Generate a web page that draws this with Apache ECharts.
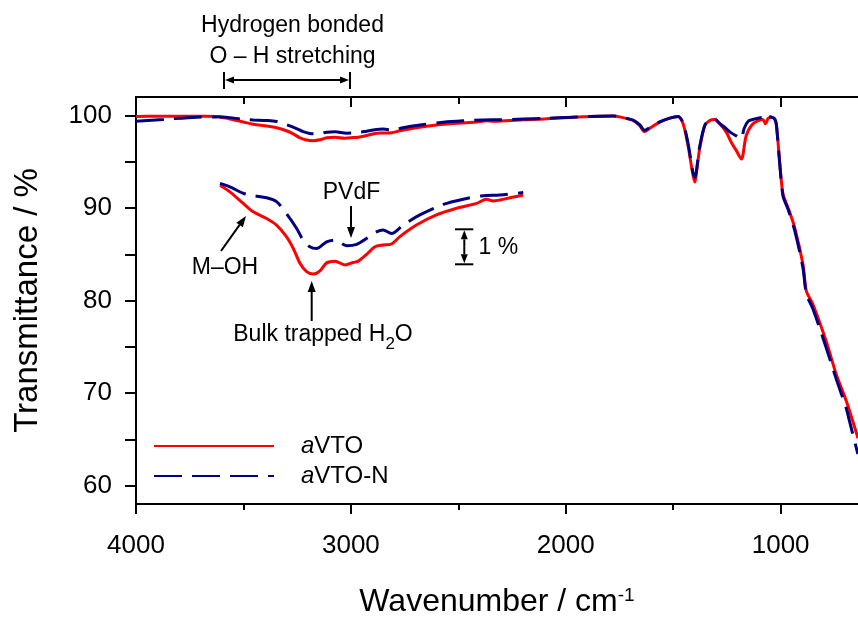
<!DOCTYPE html>
<html><head><meta charset="utf-8">
<script src="https://cdn.jsdelivr.net/npm/echarts@6/dist/echarts.min.js"></script>
<style>html,body{margin:0;padding:0;background:#fff}#c{width:858px;height:619px}</style>
</head><body><div id="c"></div>
<script>
// ---- data ----
const wnRed = [4000,3900,3800,3700,3625,3609,3563,3501,3454,3392,3346,3300,3268,3237,3206,3175,3144,3113,3074,3028,2989,2966,2927,2888,2850,2811,2772,2695,2602,2508,2415,2369,2338,2260,2198,2100,1967,1842,1780,1749,1687,1656,1633,1609,1563,1516,1478,1454,1431,1415,1400,1388,1377,1353,1330,1307,1284,1253,1230,1206,1183,1160,1129,1083,1070,1058,1043,1028,1020,1005,989,966,935,896,880,850,788,741,694,645,640];
const tRed  = [99.9,99.92,99.93,99.92,99.9,99.82,99.63,99.3,99.06,98.87,98.68,98.35,98.01,97.59,97.35,97.28,97.37,97.6,97.65,97.54,97.61,97.65,97.84,98.06,98.11,98.14,98.35,98.68,98.97,99.16,99.3,99.42,99.37,99.46,99.54,99.62,99.82,99.93,99.95,99.85,99.46,98.9,98.26,98.63,99.28,99.71,99.89,99.1,96.75,94.5,92.8,94.5,96.4,98.9,99.46,99.57,99.1,98.2,97.1,96.2,95.3,97.83,99.1,99.57,99.1,99.7,99.82,99.64,99.1,95.1,91.5,90.06,87.9,83.9,81.0,79.6,75.6,72.0,69.1,65.5,65.1];
const wnBlue = [4000,3873,3718,3625,3609,3563,3501,3454,3392,3346,3300,3253,3222,3191,3160,3113,3074,3020,2973,2927,2896,2850,2811,2757,2679,2570,2477,2384,2307,2198,2100,1967,1842,1780,1749,1687,1656,1633,1609,1563,1516,1478,1454,1431,1400,1377,1353,1330,1307,1284,1253,1230,1206,1184,1170,1150,1129,1083,1070,1058,1043,1028,1020,1005,989,966,935,896,880,850,788,741,694,679,645,640];
const tBlue  = [99.38,99.57,99.82,99.85,99.87,99.77,99.59,99.52,99.46,99.35,99.01,98.59,98.25,98.06,98.01,98.2,98.25,98.09,98.13,98.3,98.44,98.54,98.44,98.68,98.97,99.27,99.42,99.52,99.54,99.61,99.68,99.82,99.93,99.95,99.85,99.5,99.0,98.4,98.7,99.3,99.72,99.9,99.2,97.0,93.3,96.6,98.95,99.5,99.6,99.15,98.57,98.12,97.8,97.47,98.6,99.4,99.57,99.8,99.57,99.9,99.82,99.64,99.0,95.0,91.3,89.9,87.6,83.5,80.7,79.1,74.9,71.5,68.3,66.9,63.8,63.4];

const xMajorTicks = [1000,2000,3000,4000];
const xMinorTicks = [1500,2500,3500];
const yTicks  = [60,65,70,75,80,85,90,95,100];
const yLabels = [60,70,80,90,100];
const insetFrom = 3612, insetTo = 2195;   // magnified inset range (cm-1)
const insetYMin = 90.71, insetYMax = 102.34; // inset axis: 1 % = 35 px

const seriesNames = ['aVTO','aVTO-N'];

// ---- build ----
const pairs = (wn, t) => wn.map((w, i) => [w, t[i]]);
const redData = pairs(wnRed, tRed);
const blueData = pairs(wnBlue, tBlue);
const inInset = p => p[0] <= insetFrom && p[0] >= insetTo;

const FONT = 'Liberation Sans, Arial, sans-serif';
const BLACK = '#000';

function arrow(x1, y1, x2, y2, hl, hw) {
  hl = hl || 11; hw = hw || 8;
  const dx = x2 - x1, dy = y2 - y1, L = Math.hypot(dx, dy);
  const ux = dx / L, uy = dy / L, nx = -uy, ny = ux;
  const bx = x2 - ux * hl, by = y2 - uy * hl;
  return [
    {type:'line', shape:{x1:x1, y1:y1, x2:bx, y2:by}, style:{stroke:BLACK, lineWidth:2}},
    {type:'polygon', shape:{points:[[x2,y2],[bx+nx*hw/2, by+ny*hw/2],[bx-nx*hw/2, by-ny*hw/2]]}, style:{fill:BLACK}}
  ];
}
function seg(x1, y1, x2, y2) {
  return {type:'line', shape:{x1:x1, y1:y1, x2:x2, y2:y2}, style:{stroke:BLACK, lineWidth:2}};
}
function txt(s, x, y, align, extra) {
  return {type:'text', style:Object.assign({text:s, x:x, y:y, align:align||'center', verticalAlign:'middle', font:'23px ' + FONT, fill:BLACK}, extra||{})};
}

const graphics = [].concat(
  txt('Hydrogen bonded', 292.5, 26),
  txt('O \u2013 H stretching', 292.5, 57),
  seg(224, 72, 224, 89), seg(350, 72, 350, 89),
  arrow(287, 80, 225, 80, 9, 7), arrow(287, 80, 349, 80, 9, 7),
  txt('PVdF', 351.5, 193),
  arrow(351, 206, 351, 238, 11, 8),
  txt('M\u2013OH', 225, 267.5),
  arrow(221, 251, 246, 216, 11, 8),
  arrow(311.7, 321, 311.7, 281, 11, 8),
  {type:'text', style:{text:'{n|Bulk trapped H}{s|2}{n|O}', x:323, y:335, align:'center', verticalAlign:'middle',
    rich:{n:{fontSize:23, fontFamily:FONT, fill:BLACK, lineHeight:36}, s:{fontSize:17, fontFamily:FONT, fill:BLACK, lineHeight:17, verticalAlign:'bottom'}}}},
  seg(455, 229.3, 473.3, 229.3), seg(455, 264.3, 473.3, 264.3),
  arrow(464.3, 246.8, 464.3, 230.3, 9, 7), arrow(464.3, 246.8, 464.3, 263.3, 9, 7),
  txt('1 %', 478.5, 248, 'left')
);

const axisLine = {show:true, lineStyle:{color:BLACK, width:2}};
const xBase = {type:'value', min:640, max:4000, inverse:true, gridIndex:0, splitLine:{show:false}};
const plain = v => String(v);

const option = {
  backgroundColor:'#fff',
  animation:false,
  grid:{left:136, top:97, width:722, height:407, containLabel:false, outerBoundsMode:'none'},
  xAxis:[
    Object.assign({}, xBase, {position:'bottom', axisLine:axisLine,
      axisTick:{show:true, inside:false, length:10, lineStyle:{color:BLACK, width:2}, customValues:xMajorTicks},
      axisLabel:{show:true, margin:29, fontSize:26, fontFamily:FONT, color:BLACK, customValues:xMajorTicks, formatter:plain},
      name:'{t|Wavenumber / cm}{s|-1}', nameLocation:'middle', nameGap:82,
      nameTextStyle:{rich:{t:{fontSize:32, fontFamily:FONT, color:BLACK}, s:{fontSize:19, fontFamily:FONT, color:BLACK, verticalAlign:'top'}}}}),
    Object.assign({}, xBase, {position:'bottom', axisLine:{show:false},
      axisTick:{show:true, inside:false, length:6, lineStyle:{color:BLACK, width:2}, customValues:xMinorTicks},
      axisLabel:{show:false}}),
    Object.assign({}, xBase, {position:'top', axisLine:axisLine,
      axisTick:{show:true, inside:true, length:10, lineStyle:{color:BLACK, width:2}, customValues:xMajorTicks},
      axisLabel:{show:false}}),
    Object.assign({}, xBase, {position:'top', axisLine:{show:false},
      axisTick:{show:true, inside:true, length:7, lineStyle:{color:BLACK, width:2}, customValues:xMinorTicks},
      axisLabel:{show:false}})
  ],
  yAxis:[
    {type:'value', min:58, max:102, position:'left', axisLine:axisLine, splitLine:{show:false},
      axisTick:{show:true, inside:false, length:11, lineStyle:{color:BLACK, width:2}, customValues:yTicks},
      axisLabel:{show:true, margin:24, fontSize:26, fontFamily:FONT, color:BLACK, customValues:yLabels, formatter:plain},
      name:'Transmittance / %', nameLocation:'middle', nameGap:92,
      nameTextStyle:{fontSize:33, fontFamily:FONT, color:BLACK}},
    {type:'value', min:insetYMin, max:insetYMax, show:false, splitLine:{show:false}}
  ],
  legend:{
    orient:'vertical', left:153, top:431, padding:0, itemGap:0, itemWidth:120, itemHeight:14,
    itemStyle:{opacity:0},
    data:[{name:seriesNames[0]}, {name:seriesNames[1], lineStyle:{type:[28,10]}}],
    formatter: n => '{i|a}{n|' + n.slice(1) + '}',
    textStyle:{padding:[0,0,0,22], lineHeight:30, rich:{
      i:{fontSize:24, fontStyle:'italic', fontFamily:FONT, color:BLACK},
      n:{fontSize:24, fontFamily:FONT, color:BLACK}}}
  },
  series:[
    {name:seriesNames[0], type:'line', xAxisIndex:0, yAxisIndex:0, data:redData, symbol:'none', smooth:0.3,
      lineStyle:{color:'#ff0000', width:3}, itemStyle:{color:'#ff0000'}, z:3},
    {name:seriesNames[1], type:'line', xAxisIndex:0, yAxisIndex:0, data:blueData, symbol:'none', smooth:0.3,
      lineStyle:{color:'#000080', width:3, type:[28,10]}, itemStyle:{color:'#000080'}, z:4},
    {name:seriesNames[0], type:'line', xAxisIndex:0, yAxisIndex:1, data:redData.filter(inInset), symbol:'none', smooth:0.3,
      lineStyle:{color:'#ff0000', width:3}, itemStyle:{color:'#ff0000'}, z:3},
    {name:seriesNames[1], type:'line', xAxisIndex:0, yAxisIndex:1, data:blueData.filter(inInset), symbol:'none', smooth:0.3,
      lineStyle:{color:'#000080', width:3, type:[28,10]}, itemStyle:{color:'#000080'}, z:4}
  ],
  graphic:graphics
};

const chart = echarts.init(document.getElementById('c'), null, {renderer:'canvas'});
chart.setOption(option);
</script>
</body></html>
